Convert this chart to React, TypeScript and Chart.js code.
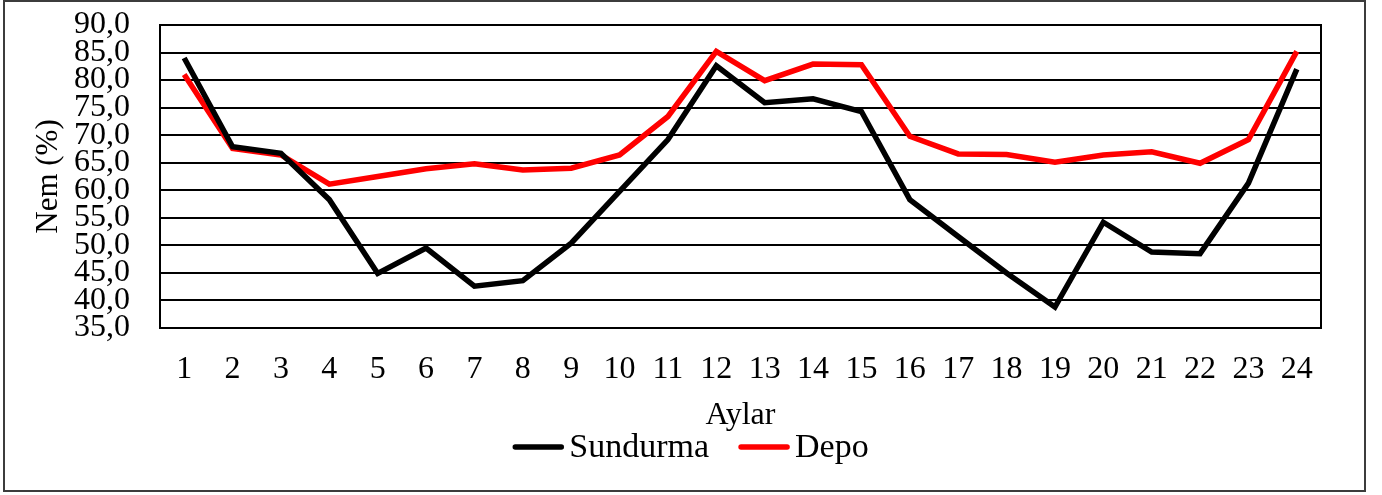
import React, { useEffect, useRef } from "react";
import { Chart, registerables } from "chart.js";

Chart.register(...registerables);

const months = ["1","2","3","4","5","6","7","8","9","10","11","12","13","14","15","16","17","18","19","20","21","22","23","24"];
const sundurma = [84.0, 67.9, 66.7, 58.3, 44.9, 49.5, 42.6, 43.6, 50.4, 59.8, 69.2, 82.6, 75.9, 76.6, 74.3, 58.3, 51.6, 45.0, 38.8, 54.2, 48.8, 48.5, 61.3, 82.0];
const depo = [81.0, 67.6, 66.4, 61.1, 62.5, 63.9, 64.8, 63.7, 64.0, 66.4, 73.4, 85.2, 79.9, 82.9, 82.8, 69.8, 66.6, 66.5, 65.1, 66.4, 67.0, 64.9, 69.2, 85.2];
const seriesNames = ["Sundurma", "Depo"];
const seriesColors = ["#000000", "#FF0000"];
const yTitle = "Nem (%)";
const xTitle = "Aylar";

const FONT = "'Liberation Serif', 'DejaVu Serif', serif";

const frameAndLegend = {
  id: "frameAndLegend",
  beforeDatasetsDraw(chart: any) {
    const { ctx, chartArea } = chart;
    ctx.save();
    ctx.strokeStyle = "#000";
    ctx.lineWidth = 2;
    ctx.strokeRect(chartArea.left, chartArea.top, chartArea.right - chartArea.left, chartArea.bottom - chartArea.top);
    ctx.restore();
  },
  afterDraw(chart: any) {
    const { ctx, width } = chart;
    ctx.save();
    ctx.font = `34px ${FONT}`;
    ctx.textBaseline = "middle";
    ctx.textAlign = "left";
    const lineLen = 50;
    const gap = 6;
    const spacing = 30;
    const widths = seriesNames.map((n) => ctx.measureText(n).width);
    const total = widths.reduce((a, w) => a + lineLen + gap + w, 0) + spacing * (seriesNames.length - 1);
    let x = (width - total) / 2;
    const y = 447;
    seriesNames.forEach((name, i) => {
      ctx.strokeStyle = seriesColors[i];
      ctx.lineWidth = 5.5;
      ctx.lineCap = "round";
      ctx.beginPath();
      ctx.moveTo(x + 2, y);
      ctx.lineTo(x + lineLen - 2, y);
      ctx.stroke();
      ctx.fillStyle = "#000";
      ctx.fillText(name, x + lineLen + gap, y + 1);
      x += lineLen + gap + widths[i] + spacing;
    });
    ctx.restore();
  },
};

export default function App() {
  const ref = useRef<HTMLCanvasElement>(null);
  useEffect(() => {
    if (!ref.current) return;
    const chart = new Chart(ref.current, {
      type: "line",
      data: {
        labels: months,
        datasets: [
          { label: seriesNames[0], data: sundurma, borderColor: seriesColors[0], backgroundColor: seriesColors[0], borderWidth: 5.5, pointRadius: 0, tension: 0, borderJoinStyle: "miter" as any },
          { label: seriesNames[1], data: depo, borderColor: seriesColors[1], backgroundColor: seriesColors[1], borderWidth: 5.5, pointRadius: 0, tension: 0, borderJoinStyle: "miter" as any },
        ],
      },
      options: {
        responsive: false,
        animation: false,
        devicePixelRatio: 1,
        layout: { padding: { top: 25, right: 61, bottom: 0, left: 0 } },
        plugins: { legend: { display: false }, tooltip: { enabled: false } },
        scales: {
          x: {
            offset: true,
            grid: { display: false, drawTicks: false },
            border: { display: true, color: "#000", width: 2 },
            ticks: { color: "#000", font: { family: FONT, size: 32 }, padding: 22, maxRotation: 0, autoSkip: false },
            title: { display: true, text: xTitle, color: "#000", font: { family: FONT, size: 32 }, padding: { top: 0, bottom: 60 } },
            afterFit: (s: any) => { s.height = 167; s.paddingLeft = 0; s.paddingRight = 0; },
          },
          y: {
            min: 35,
            max: 90,
            grid: { color: "#000", lineWidth: 2, drawTicks: false },
            border: { display: true, color: "#000", width: 2 },
            ticks: {
              stepSize: 5,
              autoSkip: false,
              color: "#000",
              padding: 30,
              font: { family: FONT, size: 32 },
              callback: (v: any) => Number(v).toFixed(1).replace(".", ","),
            },
            title: { display: true, text: yTitle, color: "#000", font: { family: FONT, size: 31 }, padding: { top: 30, bottom: 0 } },
            afterFit: (s: any) => { s.width = 160; s.paddingTop = 0; s.paddingBottom = 0; },
          },
        },
      },
      plugins: [frameAndLegend],
    });
    return () => chart.destroy();
  }, []);
  return (
    <div style={{ position: "absolute", left: 0, top: 0, width: 1382, height: 495, background: "#fff" }}>
      <div style={{ position: "absolute", left: 3, top: 0, width: 1363, height: 492, border: "2px solid #3c3c3c", boxSizing: "border-box" }} />
      <canvas ref={ref} width={1382} height={495} style={{ position: "absolute", left: 0, top: 0, display: "block" }} />
    </div>
  );
}
